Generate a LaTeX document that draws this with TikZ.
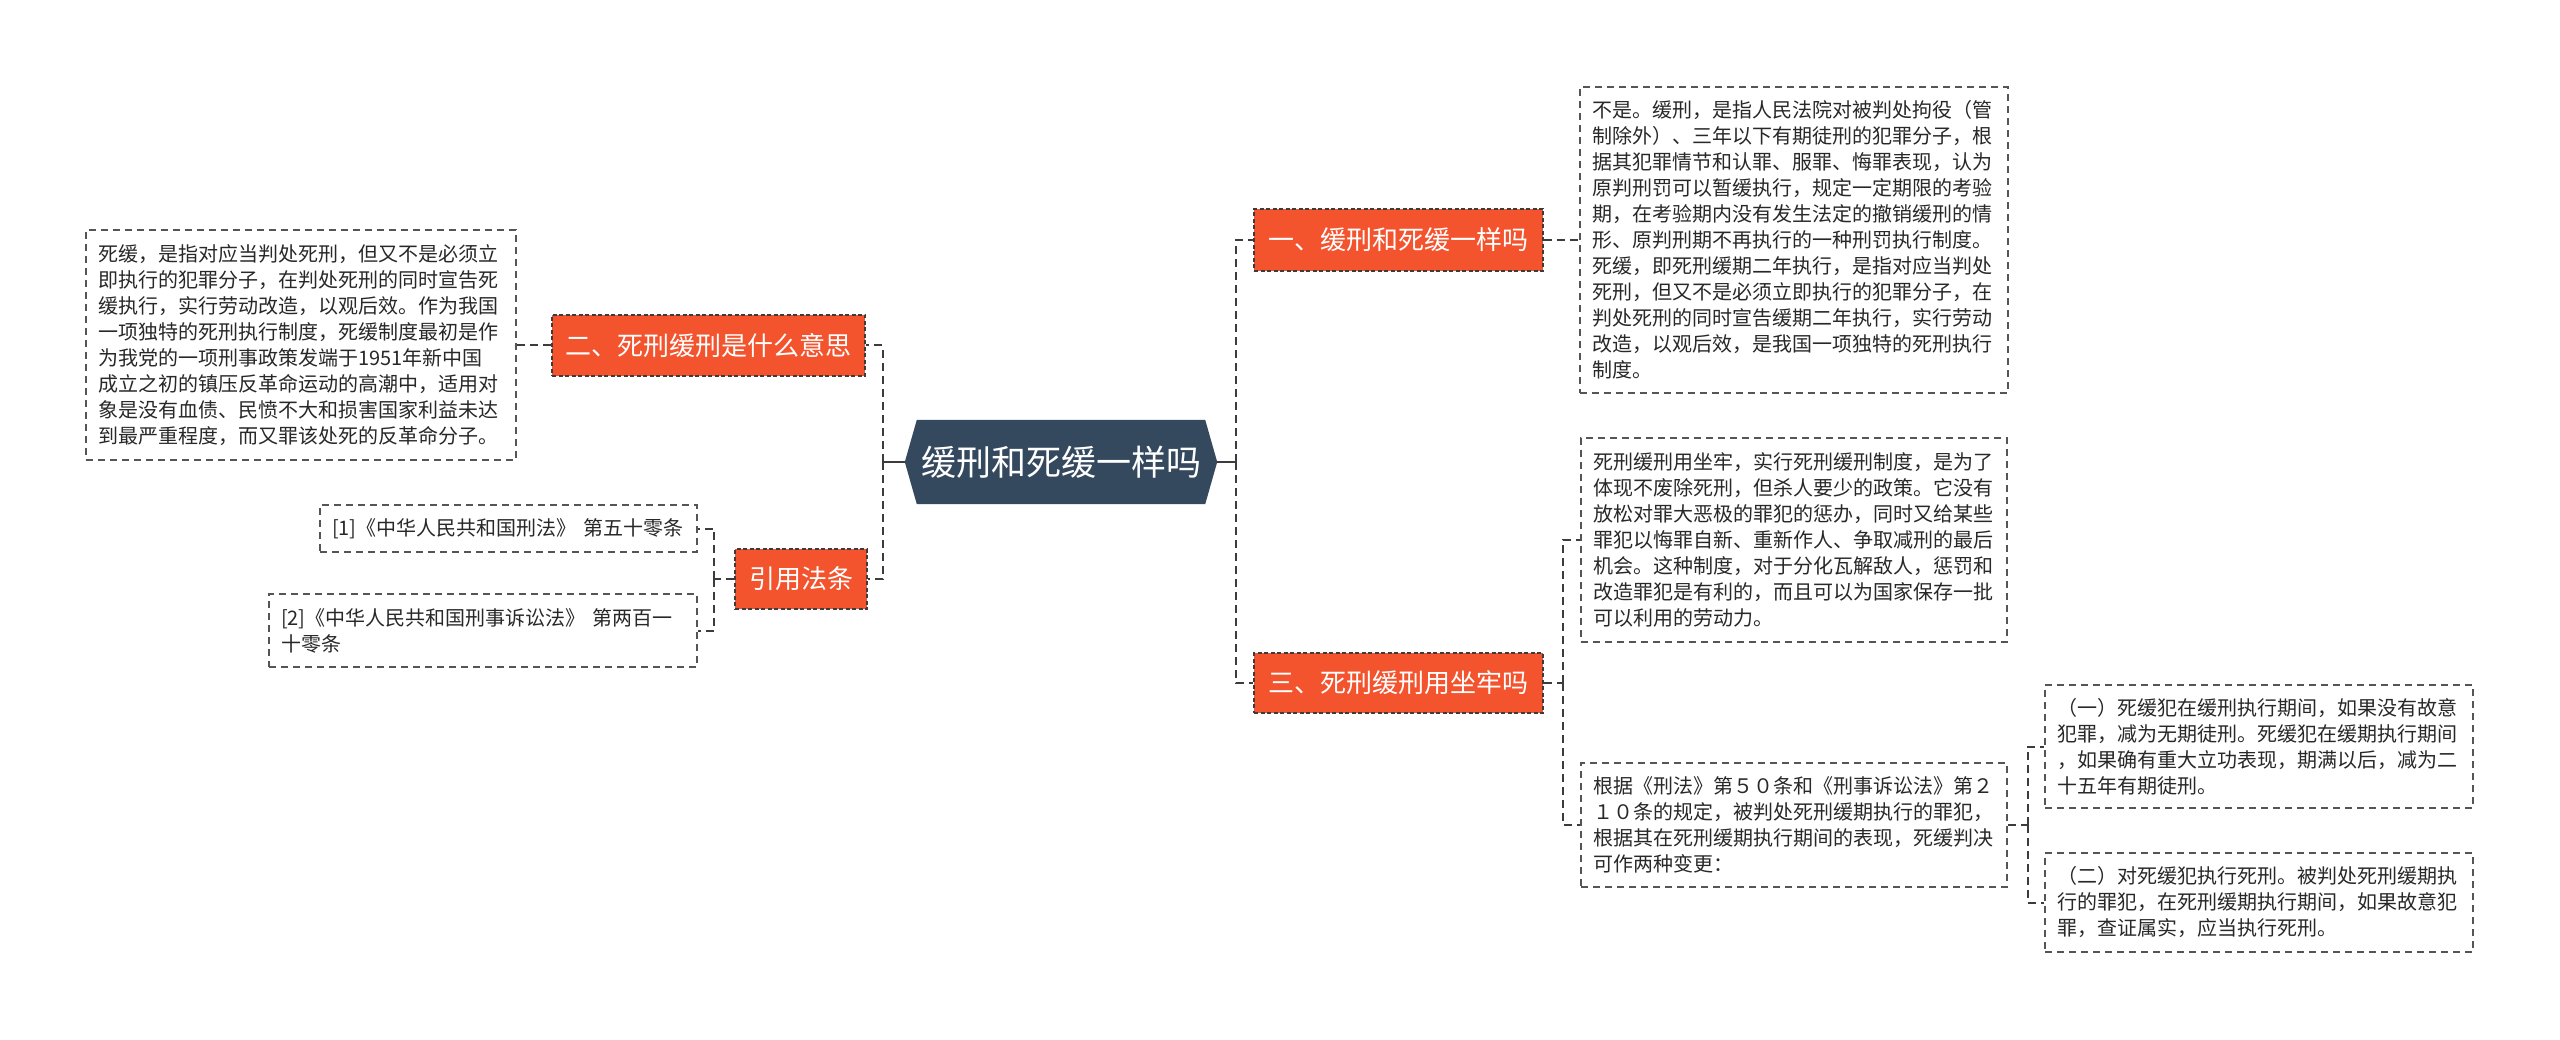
\documentclass[tikz,border=0pt]{standalone}
\usepackage{fontspec}
\setmainfont{Noto Sans CJK SC}
\usetikzlibrary{backgrounds}
\definecolor{rootfill}{RGB}{52,73,94}
\definecolor{topicfill}{RGB}{243,83,45}
\definecolor{lineC}{RGB}{60,60,60}
\definecolor{boxline}{RGB}{85,85,85}
\definecolor{textc}{RGB}{40,40,40}
\begin{document}
\begin{tikzpicture}[x=1pt,y=-1pt,
  txtbox/.style={draw=boxline, line width=1.5pt, dash pattern=on 7pt off 5pt,
    inner xsep=12pt, inner ysep=0pt, align=left, text=textc,
    font=\fontsize{20}{26}\selectfont, anchor=center},
  topic/.style={fill=topicfill, draw=lineC, line width=1.5pt, dash pattern=on 4pt off 2.5pt,
    text=white, font=\fontsize{26}{30}\selectfont, inner sep=0pt, anchor=center},
  rootnode/.style={inner sep=0pt, text=white, font=\fontsize{35}{40}\selectfont,
    minimum width=288pt, minimum height=84pt, anchor=center},
  conn/.style={draw=lineC, line width=2pt, dash pattern=on 8pt off 5pt},
  stub/.style={draw=lineC, line width=2pt}
]
\useasboundingbox (0,0) rectangle (2560,1040);

% root
\node[rootnode] (root) at (1061,462) {缓刑和死缓一样吗};
\coordinate (rE) at ([xshift=12pt]root.east);
\coordinate (rW) at ([xshift=-12pt]root.west);
\begin{scope}[on background layer]
  \fill[white] (0,0) rectangle (2560,1040);
  \fill[rootfill] (rW) -- (root.north west) -- (root.north east) -- (rE)
     -- (root.south east) -- (root.south west) -- cycle;
\end{scope}

% topics
\node[topic, minimum width=289pt, minimum height=62pt] (n1) at (1398.5,240) {一、缓刑和死缓一样吗};
\node[topic, minimum width=289pt, minimum height=60pt] (n3) at (1398.5,683) {三、死刑缓刑用坐牢吗};
\node[topic, minimum width=313pt, minimum height=61pt] (n2) at (708.5,345.5) {二、死刑缓刑是什么意思};
\node[topic, minimum width=132pt, minimum height=60pt] (n4) at (801,579) {引用法条};

% text boxes
\node[txtbox, text width=406pt, minimum height=230pt] (L) at (301,345) {死缓，是指对应当判处死刑，但又不是必须立\\即执行的犯罪分子，在判处死刑的同时宣告死\\缓执行，实行劳动改造，以观后效。作为我国\\一项独特的死刑执行制度，死缓制度最初是作\\为我党的一项刑事政策发端于1951年新中国\\成立之初的镇压反革命运动的高潮中，适用对\\象是没有血债、民愤不大和损害国家利益未达\\到最严重程度，而又罪该处死的反革命分子。};
\node[txtbox, text width=353pt, minimum height=47pt] (b1) at (508.5,528.5) {[1]《中华人民共和国刑法》 第五十零条};
\node[txtbox, text width=404pt, minimum height=73pt] (b2) at (483,630.5) {[2]《中华人民共和国刑事诉讼法》 第两百一\\十零条};

\node[txtbox, text width=404pt, minimum height=306pt] (R1) at (1794,240) {不是。缓刑，是指人民法院对被判处拘役（管\\制除外）、三年以下有期徒刑的犯罪分子，根\\据其犯罪情节和认罪、服罪、悔罪表现，认为\\原判刑罚可以暂缓执行，规定一定期限的考验\\期，在考验期内没有发生法定的撤销缓刑的情\\形、原判刑期不再执行的一种刑罚执行制度。\\死缓，即死刑缓期二年执行，是指对应当判处\\死刑，但又不是必须立即执行的犯罪分子，在\\判处死刑的同时宣告缓期二年执行，实行劳动\\改造，以观后效，是我国一项独特的死刑执行\\制度。};
\node[txtbox, text width=402pt, minimum height=204pt] (R2) at (1794,540) {死刑缓刑用坐牢，实行死刑缓刑制度，是为了\\体现不废除死刑，但杀人要少的政策。它没有\\放松对罪大恶极的罪犯的惩办，同时又给某些\\罪犯以悔罪自新、重新作人、争取减刑的最后\\机会。这种制度，对于分化瓦解敌人，惩罚和\\改造罪犯是有利的，而且可以为国家保存一批\\可以利用的劳动力。};
\node[txtbox, text width=402pt, minimum height=124pt] (R3) at (1794,825) {根据《刑法》第５０条和《刑事诉讼法》第２\\１０条的规定，被判处死刑缓期执行的罪犯，\\根据其在死刑缓期执行期间的表现，死缓判决\\可作两种变更：};
\node[txtbox, text width=404pt, minimum height=123pt] (R3a) at (2259,746.5) {（一）死缓犯在缓刑执行期间，如果没有故意\\犯罪，减为无期徒刑。死缓犯在缓期执行期间\\，如果确有重大立功表现，期满以后，减为二\\十五年有期徒刑。};
\node[txtbox, text width=404pt, minimum height=99pt] (R3b) at (2259,902.5) {（二）对死缓犯执行死刑。被判处死刑缓期执\\行的罪犯，在死刑缓期执行期间，如果故意犯\\罪，查证属实，应当执行死刑。};

% connectors
\draw[stub] (rE) -- ++(19,0) coordinate (rEj);
\draw[conn] (rEj) |- (n1);
\draw[conn] (rEj) |- (n3);
\draw[stub] (rW) -- ++(-22,0) coordinate (rWj);
\draw[conn] (rWj) |- (n2);
\draw[conn] (rWj) |- (n4);

\draw[conn] (n1.east) -- (n1.east -| R1.west);
\draw[conn] (n2.west) -- (n2.west -| L.east);

\draw[conn] (n4.west) -- ++(-20,0) coordinate (n4j);
\draw[conn] (n4j) |- (b1);
\draw[conn] (n4j) |- (b2);

\draw[conn] (n3.east) -- ++(19,0) coordinate (n3j);
\draw[conn] (n3j) |- (R2);
\draw[conn] (n3j) |- (R3);

\draw[conn] (R3.east) -- ++(20,0) coordinate (R3j);
\draw[conn] (R3j) |- (R3a);
\draw[conn] (R3j) |- (R3b);
\end{tikzpicture}
\end{document}
